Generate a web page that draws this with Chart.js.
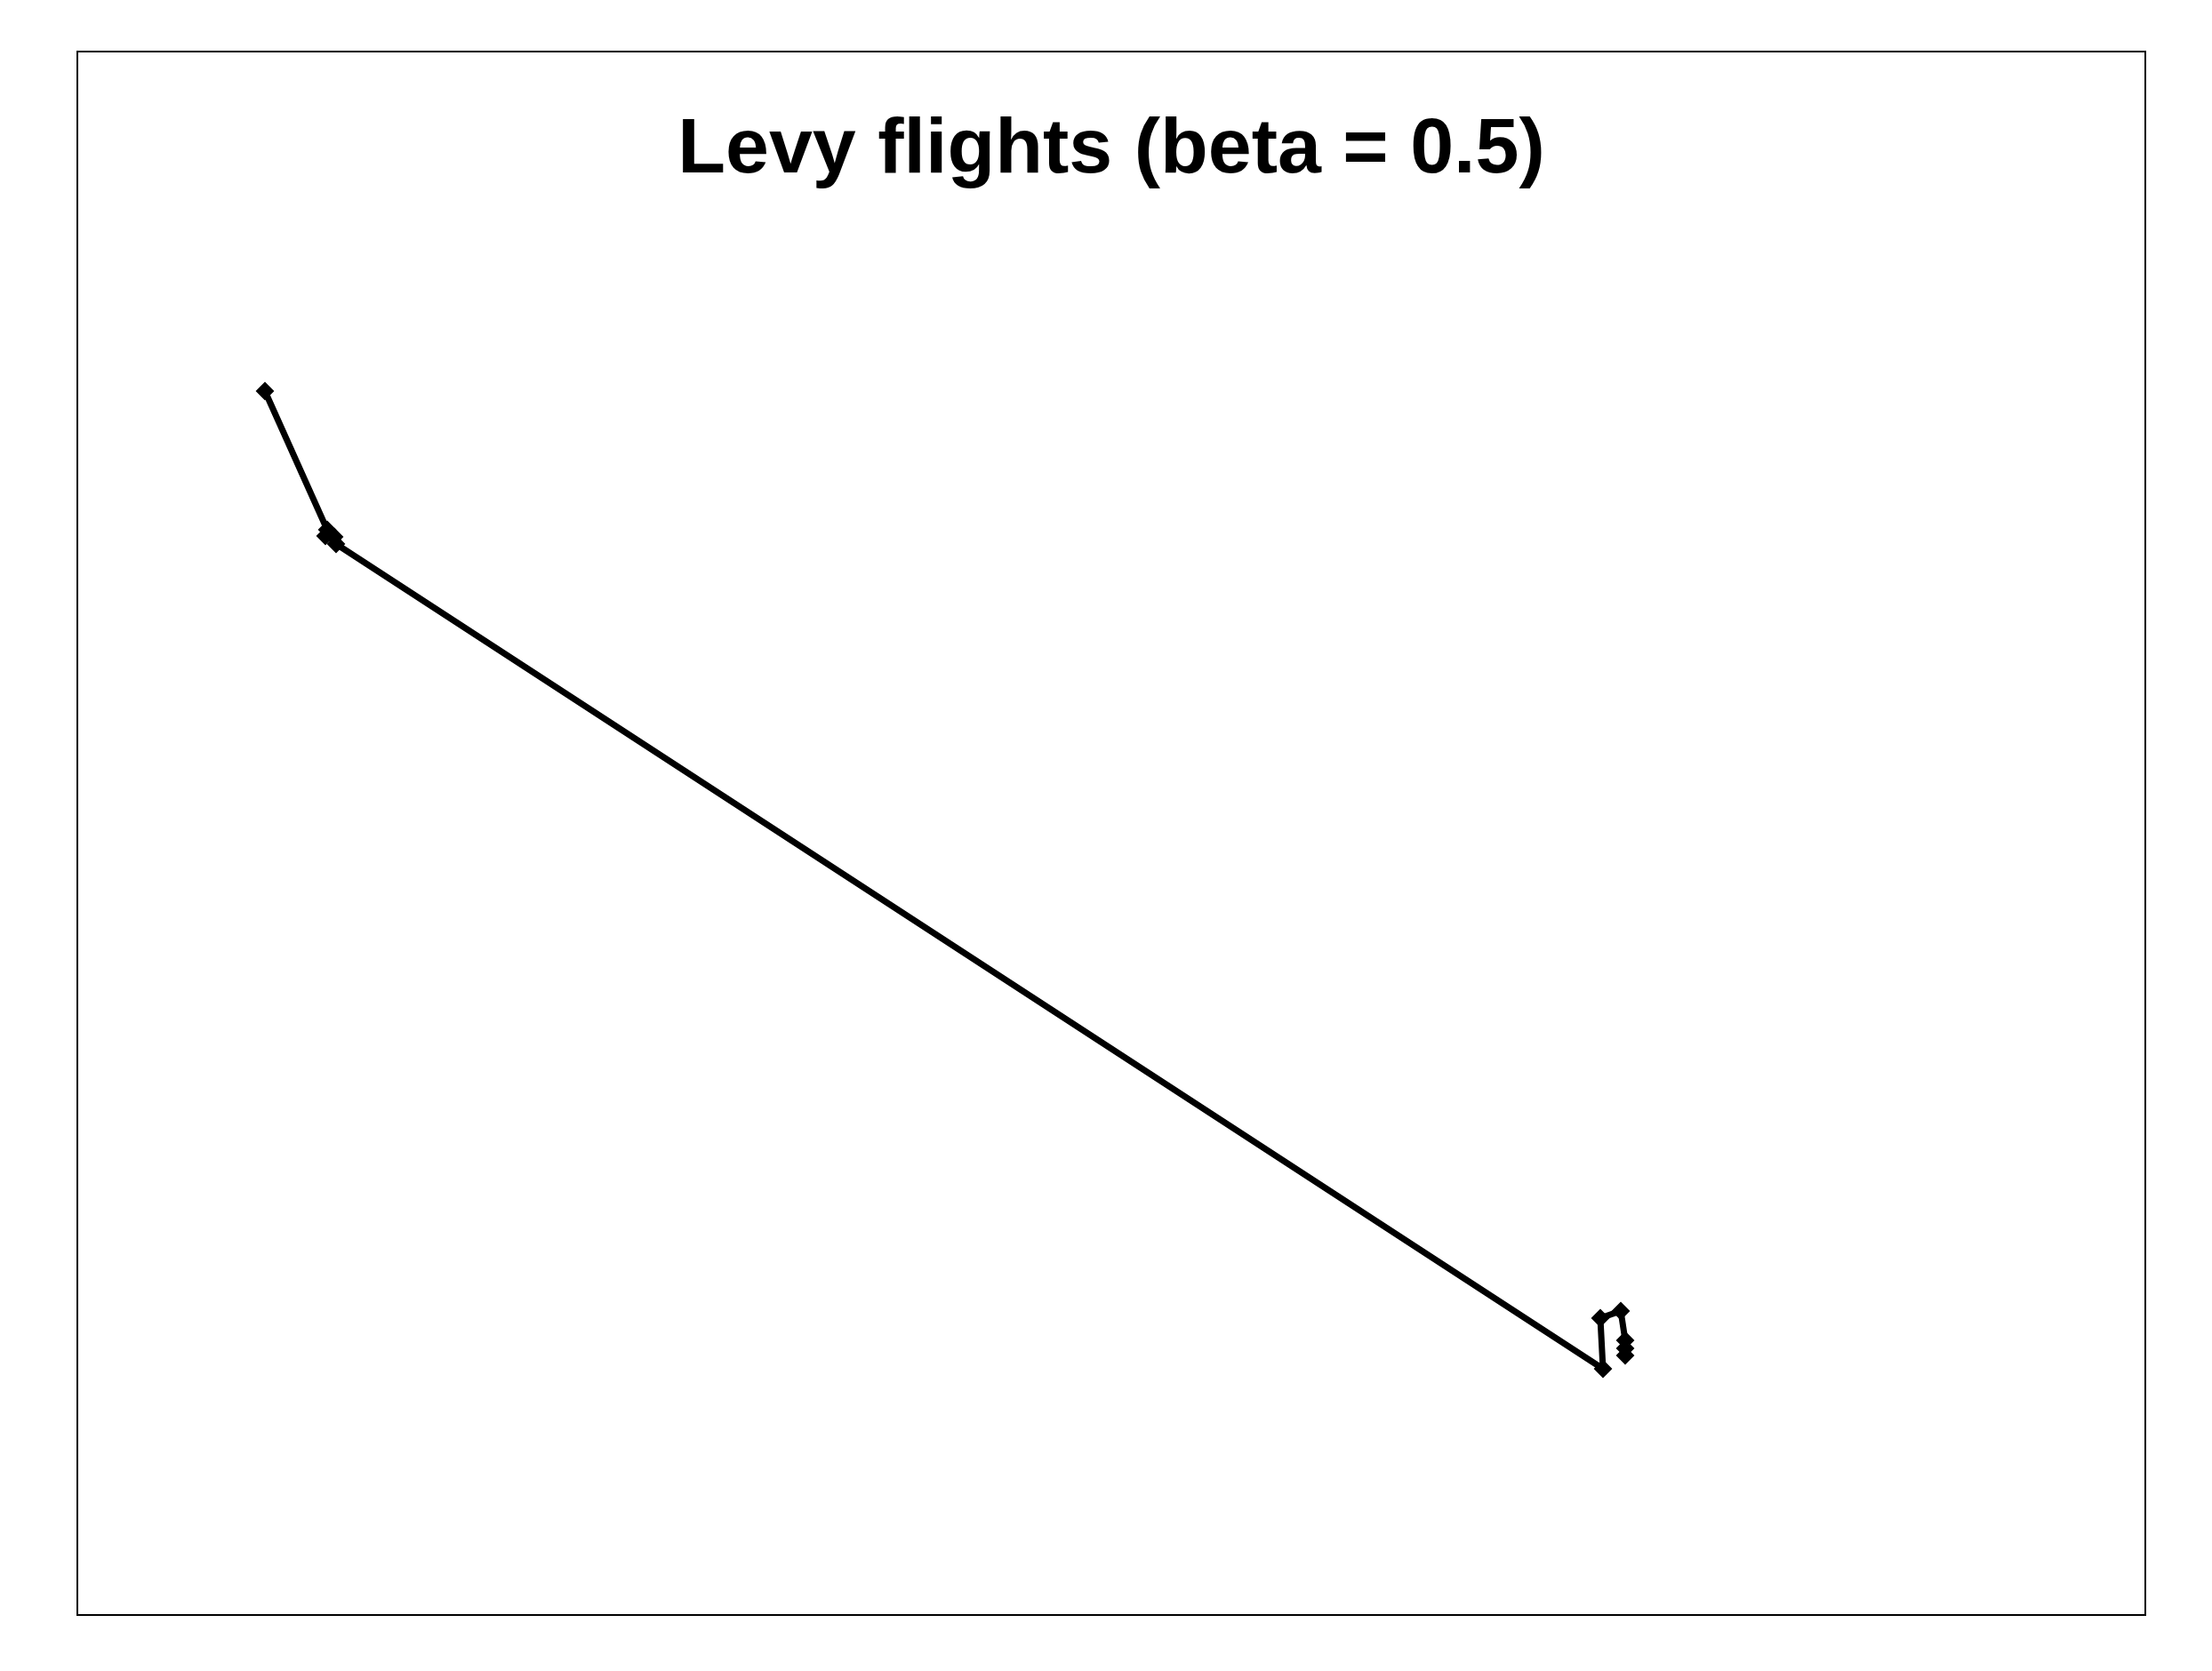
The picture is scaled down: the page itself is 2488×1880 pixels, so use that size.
<!DOCTYPE html>
<html lang="en">
<head>
    <meta charset="UTF-8">
    <title>Levy flights (beta = 0.5)</title>
    <script src="https://cdn.jsdelivr.net/npm/chart.js"></script>
    <style>
        html, body { margin: 0; padding: 0; background: #ffffff; }
        #levyChart { display: block; }
    </style>
</head>
<body>

    <canvas id="levyChart" width="2488" height="1880"></canvas>

    <script>
        // Walk positions (arbitrary units, y up)
        const stepX = [0, 3.5, 3.4, 3.9, 4.0, 75.25, 75.1, 76.25, 76.5, 76.5, 76.5];
        const stepY = [0, -7.8, -8.15, -8.2, -8.6, -55.0, -52.15, -51.75, -53.4, -53.85, -54.25];

        // Plot limits
        const xLimits = [-10.55, 105.75];
        const yLimits = [-68.85, 19.1];

        const titleText = 'Levy flights (beta = 0.5)';

        const points = stepX.map((x, i) => ({ x: x, y: stepY[i] }));

        // Box round the plot region and the title inside it
        const framePlugin = {
            id: 'frame',
            afterDraw(chart) {
                const ctx = chart.ctx;
                const a = chart.chartArea;
                ctx.save();
                ctx.strokeStyle = '#000000';
                ctx.lineWidth = 2;
                ctx.strokeRect(a.left, a.top, a.right - a.left, a.bottom - a.top);
                ctx.fillStyle = '#000000';
                ctx.font = 'bold 88px "Liberation Sans", Arial, sans-serif';
                ctx.textAlign = 'center';
                ctx.textBaseline = 'alphabetic';
                ctx.fillText(titleText, (a.left + a.right) / 2, 194);
                ctx.restore();
            }
        };

        const ctx = document.getElementById('levyChart').getContext('2d');
        new Chart(ctx, {
            type: 'scatter',
            data: {
                datasets: [{
                    label: 'walk',
                    data: points,
                    showLine: true,
                    borderColor: '#000000',
                    borderWidth: 7,
                    backgroundColor: '#000000',
                    pointStyle: 'rectRot',
                    pointRadius: 9,
                    pointBorderWidth: 2,
                    pointBackgroundColor: '#000000',
                    pointBorderColor: '#000000',
                    tension: 0,
                }],
            },
            options: {
                responsive: false,
                animation: false,
                layout: {
                    padding: { left: 87, top: 58, right: 75, bottom: 63 },
                },
                scales: {
                    x: { type: 'linear', min: xLimits[0], max: xLimits[1], display: false },
                    y: { type: 'linear', min: yLimits[0], max: yLimits[1], display: false },
                },
                plugins: {
                    legend: { display: false },
                    title: { display: false },
                    tooltip: { enabled: false },
                },
            },
            plugins: [framePlugin],
        });
    </script>

</body>
</html>
